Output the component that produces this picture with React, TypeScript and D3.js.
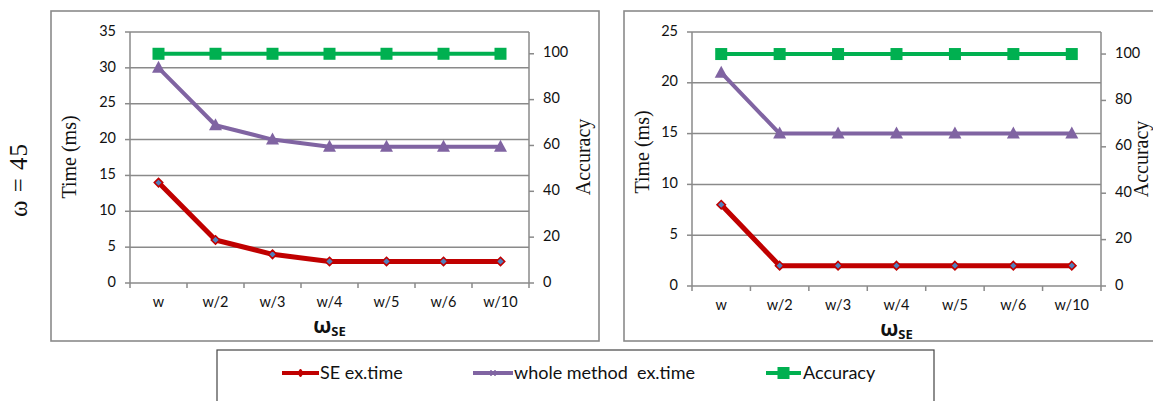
import React from 'react';
import * as d3 from 'd3';

const categories = ['w', 'w/2', 'w/3', 'w/4', 'w/5', 'w/6', 'w/10'];

const seTimeA = [14, 6, 4, 3, 3, 3, 3];
const wholeTimeA = [30, 22, 20, 19, 19, 19, 19];
const accuracyA = [100, 100, 100, 100, 100, 100, 100];

const seTimeB = [8, 2, 2, 2, 2, 2, 2];
const wholeTimeB = [21, 15, 15, 15, 15, 15, 15];
const accuracyB = [100, 100, 100, 100, 100, 100, 100];

const timeTicksA = [0, 5, 10, 15, 20, 25, 30, 35];
const timeTicksB = [0, 5, 10, 15, 20, 25];
const accuracyTicks = [0, 20, 40, 60, 80, 100];
const accuracyAxisMax = 109.5;

const seriesNames = ['SE ex.time', 'whole method  ex.time', 'Accuracy'];

const RED = '#c00000';
const PURPLE = '#8064a2';
const GREEN = '#00b050';
const GRID = '#8a8a8a';
const TXT = '#111';
const TICK_FONT = "Lato, 'Open Sans', sans-serif";
const SERIF = "'Liberation Serif', 'DejaVu Serif', serif";

type PanelProps = {
  box: { x0: number; y0: number; x1: number; y1: number };
  plot: { left: number; right: number; top: number; bottom: number };
  timeTicks: number[];
  se: number[];
  whole: number[];
  acc: number[];
  timeTitleX: number;
  timeTitleY: number;
  accTitleX: number;
  accTitleY: number;
};

function Diamond({ x, y }: { x: number; y: number }) {
  const s = 4.2;
  return (
    <path
      d={`M${x},${y - s}L${x + s},${y}L${x},${y + s}L${x - s},${y}Z`}
      fill="#4f81bd"
      stroke={RED}
      strokeWidth={1.6}
    />
  );
}

function Triangle({ x, y }: { x: number; y: number }) {
  const w = 6.5;
  return (
    <path
      d={`M${x},${y - 7}L${x + w},${y + 5}L${x - w},${y + 5}Z`}
      fill={PURPLE}
    />
  );
}

function Square({ x, y }: { x: number; y: number }) {
  const s = 6;
  return <rect x={x - s} y={y - s} width={2 * s} height={2 * s} fill={GREEN} />;
}

function Panel(p: PanelProps) {
  const { plot } = p;
  const x = d3
    .scaleBand<string>()
    .domain(categories)
    .range([plot.left, plot.right]);
  const yT = d3
    .scaleLinear()
    .domain([0, p.timeTicks[p.timeTicks.length - 1]])
    .range([plot.bottom, plot.top]);
  const yA = d3
    .scaleLinear()
    .domain([0, accuracyAxisMax])
    .range([plot.bottom, plot.top]);
  const cx = (c: string) => (x(c) as number) + x.bandwidth() / 2;

  const lineT = d3
    .line<number>()
    .x((_, i) => cx(categories[i]))
    .y((d) => yT(d));
  const lineA = d3
    .line<number>()
    .x((_, i) => cx(categories[i]))
    .y((d) => yA(d));

  const boundaries = categories.map((c) => x(c) as number).concat([plot.right]);

  return (
    <g>
      <rect
        x={p.box.x0}
        y={p.box.y0}
        width={p.box.x1 - p.box.x0}
        height={p.box.y1 - p.box.y0}
        fill="#fff"
        stroke={GRID}
        strokeWidth={1.6}
      />
      {p.timeTicks.map((t) => (
        <line
          key={'g' + t}
          x1={plot.left}
          x2={plot.right}
          y1={yT(t)}
          y2={yT(t)}
          stroke={GRID}
          strokeWidth={1.5}
        />
      ))}
      <line x1={plot.left} x2={plot.left} y1={plot.top} y2={plot.bottom} stroke={GRID} strokeWidth={1.5} />
      <line x1={plot.right} x2={plot.right} y1={plot.top} y2={plot.bottom} stroke={GRID} strokeWidth={1.5} />
      {p.timeTicks.map((t) => (
        <g key={'lt' + t}>
          <line x1={plot.left - 5} x2={plot.left} y1={yT(t)} y2={yT(t)} stroke={GRID} strokeWidth={1.5} />
          <text
            x={plot.left - 14}
            y={yT(t)}
            textAnchor="end"
            dominantBaseline="middle"
            fontFamily={TICK_FONT}
            fontSize={14.5}
            fill={TXT}
          >
            {t}
          </text>
        </g>
      ))}
      {accuracyTicks.map((t) => (
        <g key={'rt' + t}>
          <line x1={plot.right} x2={plot.right + 5} y1={yA(t)} y2={yA(t)} stroke={GRID} strokeWidth={1.5} />
          <text
            x={plot.right + 14}
            y={yA(t)}
            textAnchor="start"
            dominantBaseline="middle"
            fontFamily={TICK_FONT}
            fontSize={14.5}
            fill={TXT}
          >
            {t}
          </text>
        </g>
      ))}
      {boundaries.map((b, i) => (
        <line key={'xt' + i} x1={b} x2={b} y1={plot.bottom} y2={plot.bottom + 5} stroke={GRID} strokeWidth={1.5} />
      ))}
      {categories.map((c) => (
        <text
          key={'xl' + c}
          x={cx(c)}
          y={plot.bottom + 20}
          textAnchor="middle"
          dominantBaseline="middle"
          fontFamily={TICK_FONT}
          fontSize={14.5}
          fill={TXT}
        >
          {c}
        </text>
      ))}
      <text
        transform={`translate(${p.timeTitleX},${p.timeTitleY}) rotate(-90)`}
        textAnchor="middle"
        dominantBaseline="middle"
        fontFamily={SERIF}
        fontSize={20}
        fill={TXT}
      >
        Time (ms)
      </text>
      <text
        transform={`translate(${p.accTitleX},${p.accTitleY}) rotate(-90)`}
        textAnchor="middle"
        dominantBaseline="middle"
        fontFamily={SERIF}
        fontSize={20}
        fill={TXT}
      >
        Accuracy
      </text>
      <text
        x={(plot.left + plot.right) / 2}
        y={plot.bottom + 50}
        textAnchor="middle"
        fontFamily="'Open Sans', 'DejaVu Sans', sans-serif"
        fontWeight="bold"
        fill={TXT}
      >
        <tspan fontSize={21}>ω</tspan>
        <tspan fontSize={13} dy={3}>SE</tspan>
      </text>
      <path d={lineT(p.se) || ''} fill="none" stroke={RED} strokeWidth={5} strokeLinejoin="round" />
      {p.se.map((v, i) => (
        <Diamond key={'d' + i} x={cx(categories[i])} y={yT(v)} />
      ))}
      <path d={lineT(p.whole) || ''} fill="none" stroke={PURPLE} strokeWidth={4} strokeLinejoin="round" />
      {p.whole.map((v, i) => (
        <Triangle key={'t' + i} x={cx(categories[i])} y={yT(v)} />
      ))}
      <path d={lineA(p.acc) || ''} fill="none" stroke={GREEN} strokeWidth={4} />
      {p.acc.map((v, i) => (
        <Square key={'s' + i} x={cx(categories[i])} y={yA(v)} />
      ))}
    </g>
  );
}

function Legend() {
  const y = 373;
  const items = [
    { x1: 282, x2: 319, tx: 320, color: RED, marker: 'd' },
    { x1: 473, x2: 513, tx: 514, color: PURPLE, marker: 't' },
    { x1: 766, x2: 801, tx: 803, color: GREEN, marker: 's' },
  ];
  return (
    <g>
      <rect x={217} y={350} width={717} height={52} fill="#fff" stroke="#444" strokeWidth={1.2} />
      {items.map((it, i) => {
        const mx = (it.x1 + it.x2) / 2;
        return (
          <g key={i}>
            <line x1={it.x1} x2={it.x2} y1={y} y2={y} stroke={it.color} strokeWidth={4} />
            {it.marker === 'd' && (
              <path d={`M${mx},${y - 4}L${mx + 3},${y}L${mx},${y + 4}L${mx - 3},${y}Z`} fill={RED} stroke={RED} />
            )}
            {it.marker === 't' && (
              <g>
                <line x1={mx - 2} x2={mx - 2} y1={y - 3} y2={y + 3} stroke={PURPLE} strokeWidth={1.5} />
                <line x1={mx + 2} x2={mx + 2} y1={y - 3} y2={y + 3} stroke={PURPLE} strokeWidth={1.5} />
              </g>
            )}
            {it.marker === 's' && <rect x={mx - 6} y={y - 6} width={12} height={12} fill={GREEN} />}
            <text
              x={it.tx}
              y={y + 1}
              dominantBaseline="middle"
              fontFamily={TICK_FONT}
              fontSize={18}
              fill={TXT}
              style={{ whiteSpace: 'pre' }}
            >
              {seriesNames[i]}
            </text>
          </g>
        );
      })}
    </g>
  );
}

export default function App() {
  return (
    <svg
      width={1153}
      height={401}
      style={{ position: 'absolute', left: 0, top: 0, background: '#fff' }}
    >
      <rect x={0} y={0} width={1153} height={401} fill="#fff" />
      <Panel
        box={{ x0: 51, y0: 11, x1: 599, y1: 341 }}
        plot={{ left: 130, right: 529, top: 32, bottom: 283 }}
        timeTicks={timeTicksA}
        se={seTimeA}
        whole={wholeTimeA}
        acc={accuracyA}
        timeTitleX={71}
        timeTitleY={157}
        accTitleX={585}
        accTitleY={157}
      />
      <Panel
        box={{ x0: 624, y0: 11, x1: 1165, y1: 341 }}
        plot={{ left: 692, right: 1101, top: 32, bottom: 286 }}
        timeTicks={timeTicksB}
        se={seTimeB}
        whole={wholeTimeB}
        acc={accuracyB}
        timeTitleX={644}
        timeTitleY={152}
        accTitleX={1143}
        accTitleY={159}
      />
      <text
        transform="translate(21,180) rotate(-90)"
        textAnchor="middle"
        dominantBaseline="middle"
        fontFamily={SERIF}
        fontSize={25}
        letterSpacing={1}
        fill={TXT}
        style={{ whiteSpace: 'pre' }}
      >
        {'ω = 45'}
      </text>
      <Legend />
    </svg>
  );
}
